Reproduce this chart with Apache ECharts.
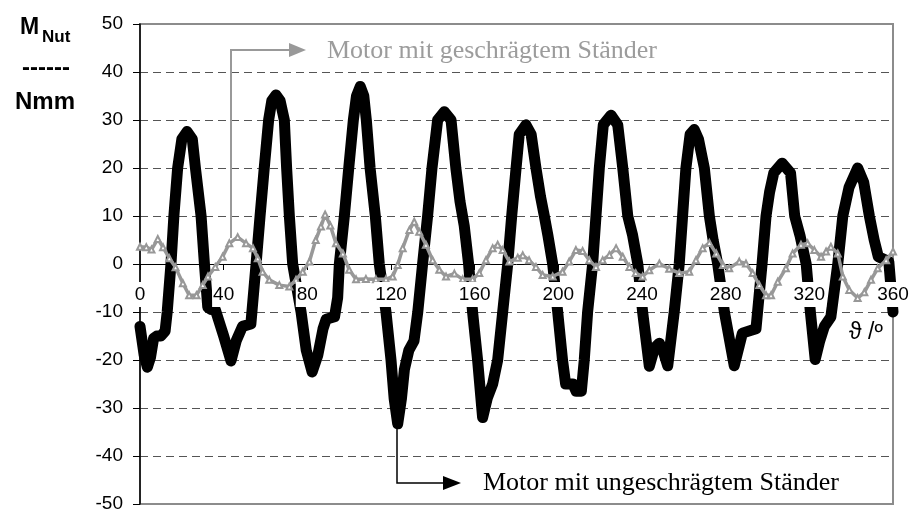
<!DOCTYPE html>
<html>
<head>
<meta charset="utf-8">
<script src="https://cdn.jsdelivr.net/npm/echarts@6/dist/echarts.min.js"></script>
<style>
html,body{margin:0;padding:0;background:#fff;}
#chart{width:910px;height:512px;}
</style>
</head>
<body>
<div id="chart"></div>
<script>
// ---- data ----
const seriesNames = ['Motor mit ungeschrägtem Ständer', 'Motor mit geschrägtem Ständer'];

const unskewedAngle = [0,2,3.5,5,6.5,8,10,12,13,14.8,16.2,18,20,22.5,25,26.5,29.2,30.8,32.4,34,36,40,43.5,46,49,53,54.5,55.5,57.4,59.4,61.5,63,65,67,69,70.1,71.4,73,75,77,79.5,82.3,85,87.5,89,93,94.5,95.3,97.7,99.8,102,103.5,105.3,107,108.2,110,112.5,114.4,117.6,120,121.5,123.2,125,126.4,128.5,131,132.8,135.1,137.5,139.6,142.3,145.5,148.7,151,153,155,157.1,159,161.4,163.8,166,168.6,171,173.4,175.8,177.7,179.8,181.3,184.5,187,189.3,191.5,193.3,195,197.3,199.7,202,203.5,207,208.5,211,212.4,214,216.4,218,219.6,221.5,225.2,228.4,230.8,233.2,235.5,238,240.3,243.5,246,248.3,250,252.3,255.4,257.8,259.4,261,263,265,267,269.8,272.2,274,276.2,279.4,284.1,286.5,288,294.5,297.4,299.3,301,303,307,311,313,315.5,317.5,318.5,320.5,322.8,325,327.2,330.3,333.6,336,339,343.1,346,348.7,351,353,358,360];
const unskewedTorque = [-13,-19,-21.5,-19.5,-15.5,-15,-15,-14,-10,0,10,20,26,27.6,26,20,10,0,-9,-9.5,-9.5,-15,-20.2,-16,-13,-12.5,-5,0,10,20,30,34,35.2,34,30,20,10,0,-5,-10,-18,-22.5,-19,-13.5,-11.5,-11,-7,0,10,20,30,35,37,35,30,20,10,0,-10,-20,-28,-33.3,-28,-22,-18,-16,-10,0,10,20,30,31.7,30,20,13,8,0,-10,-20,-32,-28,-25,-20,-10,0,10,20,27,29,27,20,14,10,6,0,-10,-20,-25,-25,-26.5,-26.5,-20,-10,0,10,20,29,31,29,20,10,6,0,-10,-21.3,-17.5,-16.5,-18,-21.2,-10,0,10,20,27,28,26,20,10,5,0,-10,-21.2,-17,-14.4,-13.5,0,10,15,19,21,19,10,6,2,0,-10,-19.9,-16,-13,-11,0,10,16,20,17,10,5,1.5,0.5,-10];

const skewedAngle = [0,3,5.5,8.5,11,14,17,20.5,23.5,27,30,32.5,36,39.5,42.7,46.7,50.7,54,56.3,58.6,61.8,66.6,71.4,74.6,77.8,81,84,86.5,88.5,91,93.7,97,100,103.3,108,112.8,117.6,120.8,123.2,125.6,128.8,131.1,133.5,136.7,139.9,143.1,146.3,150.3,154.3,159,162.2,165.4,168.6,171,173.4,176.6,180.6,183,186,189.3,192.5,197.3,202,205.2,208.4,211.6,214.8,218,221.2,224.4,227.6,230.8,234,237,240.3,243.5,248.3,253,257.8,262.6,265.8,269,272.2,275.5,278.7,281.7,286.5,289.7,292.9,296.1,299.3,301.7,304.9,308.8,312,316,319.2,322.4,325.6,328,330.3,333.6,336,339.1,343.1,346.3,349.5,352.7,356.7,360];
const skewedTorque = [3.6,3.5,3,5.2,3.5,1.2,-0.7,-4,-6.5,-6.5,-4.4,-2.6,-0.6,1.5,4.3,5.6,4.3,3.3,1.2,-1.6,-3.3,-4.4,-4.7,-3.3,-1.6,0.5,5,7.8,10.3,8,4.3,2.2,-1.2,-3.2,-3.1,-3.2,-3.2,-2.6,-0.2,3.3,7.1,8.8,6.7,4,0.8,-1.2,-2.6,-2,-3.2,-3.2,-1.9,0.8,3.3,4,2.9,0.5,1.3,1.8,0.8,-0.6,-2.3,-2.6,-1.6,0.5,2.9,2.7,0.8,-0.6,0.8,1.9,3.3,1.5,-0.6,-1.9,-2.6,-1.3,0.1,-1,-1.9,-1.6,0.8,3.3,4.4,2.2,-0.2,-0.9,0.5,0.1,-1.9,-4.4,-6.5,-6.5,-3.7,-0.9,2.2,4,4.3,2.9,1.5,2.6,3.6,2.2,-2.6,-5.4,-7.1,-5.9,-3.3,-0.9,0.8,2.6];

const xTickLabels = [0,40,80,120,160,200,240,280,320,360];
const yTickLabels = [-50,-40,-30,-20,-10,0,10,20,30,40,50];

// ---- chart ----
const chart = echarts.init(document.getElementById('chart'), null, {renderer:'canvas'});
const pair = (xs, ys) => xs.map((x, i) => [x, ys[i]]);
const sans = '"Liberation Sans", Arial, sans-serif';
const serif = '"Liberation Serif", "Times New Roman", serif';
const gridCol = yTickLabels.map(v => (v === 50 || v === -50 || v === 0) ? 'rgba(0,0,0,0)' : '#555');
const xMin = xTickLabels[0], xMax = xTickLabels[xTickLabels.length - 1], xStep = xTickLabels[1] - xTickLabels[0];
const yMin = yTickLabels[0], yMax = yTickLabels[yTickLabels.length - 1], yStep = yTickLabels[1] - yTickLabels[0];
const plotTop = 24, plotH = 480;
const zeroOffset = -plotH * (0 - yMin) / (yMax - yMin); // move label axis from bottom edge up to the zero line

const option = {
  animation: false,
  backgroundColor: '#fff',
  grid: {left: 140, right: 17, top: plotTop, height: plotH, containLabel: false, outerBoundsMode: 'none',
         show: true, borderColor: '#8c8c8c', borderWidth: 2, backgroundColor: 'rgba(0,0,0,0)'},
  xAxis: [
    {
      type: 'value', min: xMin, max: xMax, interval: xStep, position: 'bottom',
      axisLine: {show: true, onZero: true, lineStyle: {color: '#000', width: 1}},
      axisTick: {show: true, inside: false, length: 6, lineStyle: {color: '#000', width: 1}},
      axisLabel: {show: false},
      splitLine: {show: false}
    },
    {
      type: 'value', min: xMin, max: xMax, interval: xStep, position: 'bottom', offset: zeroOffset, z: 20,
      axisLine: {show: false, onZero: false},
      axisTick: {show: false},
      axisLabel: {show: true, showMinLabel: true, showMaxLabel: true, hideOverlap: false, fontSize: 19, fontFamily: sans,
        color: '#000', margin: 18, backgroundColor: '#fff', padding: [3, 1, 3, 1], lineHeight: 19},
      splitLine: {show: false}
    }
  ],
  yAxis: {
    type: 'value', min: yMin, max: yMax, interval: yStep,
    axisLine: {show: true, onZero: false, lineStyle: {color: '#000', width: 1.5}},
    axisTick: {show: true, inside: false, length: 7, lineStyle: {color: '#000', width: 1}},
    axisLabel: {show: true, fontSize: 19, fontFamily: sans, color: '#000', margin: 17},
    splitLine: {show: true, lineStyle: {type: [8, 5], color: gridCol, width: 1}}
  },
  series: [
    {
      name: seriesNames[0], type: 'line', xAxisIndex: 0, data: pair(unskewedAngle, unskewedTorque),
      showSymbol: false, symbol: 'none', z: 3,
      lineStyle: {color: '#000', width: 11, join: 'round', cap: 'round'}
    },
    {
      name: seriesNames[1], type: 'line', xAxisIndex: 0, data: pair(skewedAngle, skewedTorque),
      symbol: 'emptyTriangle', symbolSize: 6, showAllSymbol: true, z: 4,
      itemStyle: {color: '#989898', borderColor: '#989898', borderWidth: 1.5},
      lineStyle: {color: '#989898', width: 3.5, join: 'round'}
    }
  ],
  graphic: [
    {type: 'text', x: 20, y: 28, z: 50, style: {text: 'M', font: 'bold 23px ' + sans, fill: '#000', align: 'left', verticalAlign: 'middle'}},
    {type: 'text', x: 42, y: 37, z: 50, style: {text: 'Nut', font: 'bold 17px ' + sans, fill: '#000', align: 'left', verticalAlign: 'middle'}},
    {type: 'text', x: 46, y: 68, z: 50, style: {text: '------', font: 'bold 24px ' + sans, fill: '#000', align: 'center', verticalAlign: 'middle'}},
    {type: 'text', x: 45, y: 102, z: 50, style: {text: 'Nmm', font: 'bold 24px ' + sans, fill: '#000', align: 'center', verticalAlign: 'middle'}},
    {type: 'text', x: 866, y: 333, z: 50, style: {text: 'ϑ /º', font: '23px ' + sans, fill: '#000', align: 'center', verticalAlign: 'middle'}},
    {type: 'polyline', z: 50, shape: {points: [[231, 238], [231, 50], [292, 50]]}, style: {stroke: '#999', lineWidth: 2, fill: null}},
    {type: 'polygon', z: 50, shape: {points: [[289, 43], [306, 50], [289, 57]]}, style: {fill: '#999'}},
    {type: 'text', x: 327, y: 51, z: 50, style: {text: seriesNames[1], font: '26px ' + serif, fill: '#9c9c9c', align: 'left', verticalAlign: 'middle'}},
    {type: 'polyline', z: 50, shape: {points: [[397, 428], [397, 483], [446, 483]]}, style: {stroke: '#000', lineWidth: 1.5, fill: null}},
    {type: 'polygon', z: 50, shape: {points: [[443, 476], [461, 483], [443, 490]]}, style: {fill: '#000'}},
    {type: 'text', x: 483, y: 483, z: 50, style: {text: seriesNames[0], font: '26px ' + serif, fill: '#000', align: 'left', verticalAlign: 'middle'}}
  ]
};
chart.setOption(option);
</script>
</body>
</html>
